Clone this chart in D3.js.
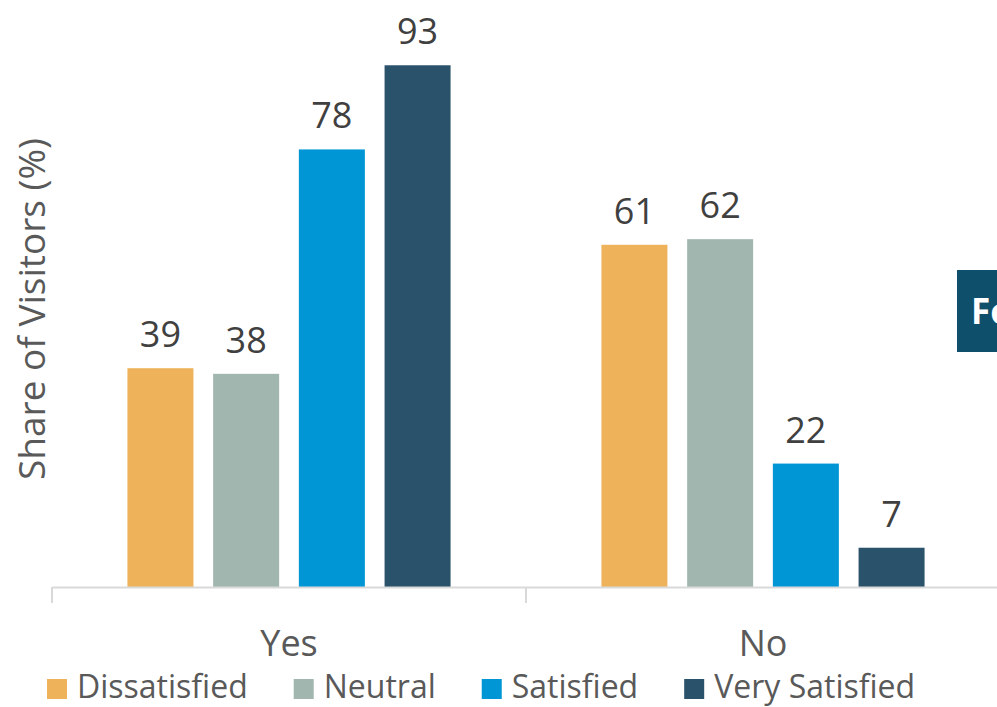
<!DOCTYPE html>
<html>
<head>
<meta charset="utf-8">
<script src="https://cdn.jsdelivr.net/npm/d3@7"></script>
<style>
  html, body { margin: 0; padding: 0; background: #ffffff; overflow: hidden; }
  svg { display: block; font-family: "Open Sans", "Noto Sans", sans-serif; }
</style>
</head>
<body>
<svg id="chart" width="997" height="707"></svg>
<script>
const categories = ["Yes", "No"];
const seriesNames = ["Dissatisfied", "Neutral", "Satisfied", "Very Satisfied"];
const dissatisfied = [39, 61];
const neutral = [38, 62];
const satisfied = [78, 22];
const verySatisfied = [93, 7];
const seriesColors = ["#EDB25A", "#A0B6AF", "#0096D6", "#2A526B"];
const yAxisTitle = "Share of Visitors (%)";
const sideBoxText = "Fo";

const seriesValues = [dissatisfied, neutral, satisfied, verySatisfied];
const rows = [];
categories.forEach((c, ci) => {
  seriesNames.forEach((s, si) => rows.push({ cat: c, series: s, si, value: seriesValues[si][ci] }));
});

const svg = d3.select("#chart");
const baseY = 587;

const x = d3.scaleBand().domain(categories).range([52, 1000]).paddingInner(0).paddingOuter(0);
const xi = d3.scaleBand().domain(seriesNames).range([0, x.bandwidth()]).paddingInner(0.23).paddingOuter(0.88);
const y = d3.scaleLinear().domain([0, 100]).range([baseY, 26]);
const color = d3.scaleOrdinal().domain(seriesNames).range(seriesColors);

// bars
svg.append("g").selectAll("rect").data(rows).join("rect")
  .attr("x", d => x(d.cat) + xi(d.series))
  .attr("y", d => y(d.value))
  .attr("width", xi.bandwidth())
  .attr("height", d => y(0) - y(d.value))
  .attr("fill", d => color(d.series));

// data labels
svg.append("g").selectAll("text").data(rows).join("text")
  .attr("x", d => x(d.cat) + xi(d.series) + xi.bandwidth() / 2)
  .attr("y", d => y(d.value) - 21)
  .attr("text-anchor", "middle")
  .attr("font-size", 36)
  .attr("fill", "#404040")
  .text(d => d.value);

// x axis
const axis = svg.append("g").attr("transform", `translate(0,${baseY})`)
  .call(d3.axisBottom(x).tickSize(0).tickPadding(0));
axis.select(".domain").attr("stroke", "#D9D9D9").attr("stroke-width", 2);
axis.selectAll(".tick text")
  .attr("font-size", 36)
  .attr("font-family", "\"Open Sans\", \"Noto Sans\", sans-serif")
  .attr("fill", "#595959")
  .attr("dy", null)
  .attr("y", 69);
const boundaries = categories.map(c => x(c)).concat([x(categories[categories.length - 1]) + x.bandwidth()]);
axis.selectAll("line.sep").data(boundaries).join("line")
  .attr("class", "sep")
  .attr("x1", d => d).attr("x2", d => d)
  .attr("y1", 0).attr("y2", 16)
  .attr("stroke", "#D9D9D9").attr("stroke-width", 2);

// y axis title
svg.append("text")
  .attr("transform", `translate(45,309) rotate(-90)`)
  .attr("text-anchor", "middle")
  .attr("font-size", 37)
  .attr("fill", "#595959")
  .text(yAxisTitle);

// legend
const legend = svg.append("g");
let lx = 47;
seriesNames.forEach((s, i) => {
  legend.append("rect").attr("x", lx).attr("y", 679).attr("width", 20).attr("height", 20).attr("fill", seriesColors[i]);
  const t = legend.append("text").attr("x", lx + 30).attr("y", 698)
    .attr("font-size", 32).attr("fill", "#595959").text(s);
  lx += 30 + t.node().getComputedTextLength() + 46;
});

// side box (cut off at right edge, as in the reference)
svg.append("rect").attr("x", 957).attr("y", 270).attr("width", 80).attr("height", 82).attr("fill", "#0E4F6B");
svg.append("text").attr("x", 971).attr("y", 324)
  .attr("font-size", 35).attr("font-weight", "bold").attr("fill", "#ffffff").text(sideBoxText);
</script>
</body>
</html>
